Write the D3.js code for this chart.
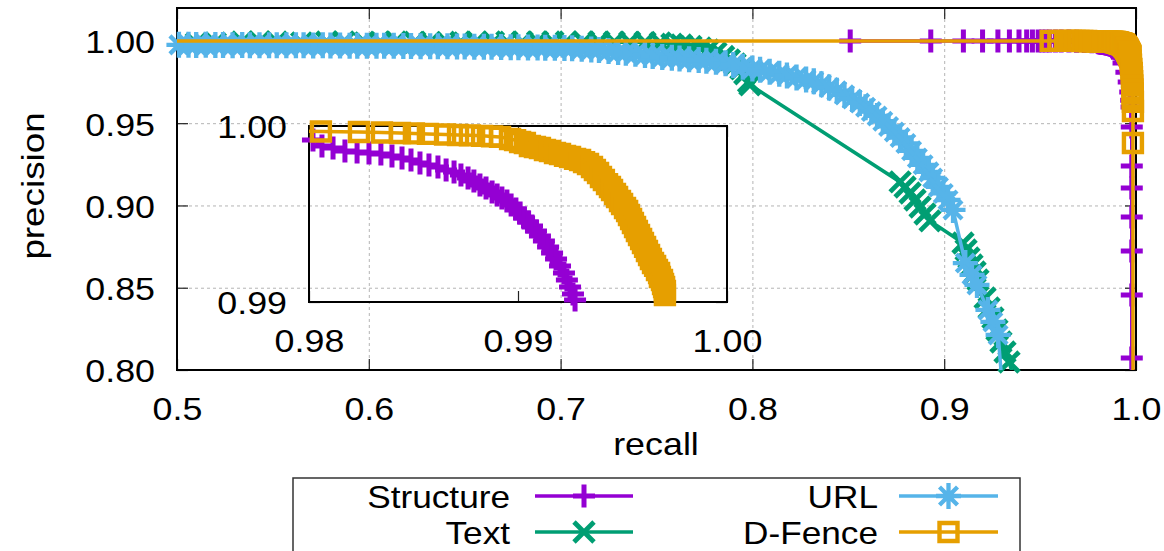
<!DOCTYPE html>
<html><head><meta charset="utf-8">
<script src="https://cdn.jsdelivr.net/npm/d3@7"></script>
<style>
body{margin:0;background:#fff}
svg{display:block}
text{font-family:"Liberation Sans",Arial,Helvetica,sans-serif;fill:#000}
</style>
</head><body>
<svg id="chart" width="1164" height="551"></svg>
<script>
// ---------------- data (recall, precision) ----------------
const seriesNames = ["Structure", "Text", "URL", "D-Fence"];

const structureData = [
 [0.851,1.0],[0.893,1.0],[0.910,1.0],[0.920,1.0],[0.928,1.0],[0.934,1.0],[0.939,1.0],[0.943,1.0],
 [0.946,1.0],[0.949,1.0],[0.951,1.0],[0.953,1.0],[0.955,1.0],[0.958,1.0],[0.961,1.0],[0.965,0.9999],
 [0.969,0.9998],[0.973,0.9997],[0.977,0.9995],
 [0.98019,0.99920],[0.98062,0.99886],[0.98115,0.99875],[0.98172,0.99858],[0.98230,0.99852],[0.98287,0.99847],
 [0.98344,0.99841],[0.98397,0.99830],[0.98445,0.99818],[0.98488,0.99807],[0.98531,0.99790],[0.98574,0.99778],
 [0.98617,0.99767],[0.98656,0.99750],[0.98694,0.99739],[0.98727,0.99722],[0.98761,0.99705],[0.98789,0.99688],
 [0.98818,0.99665],[0.98847,0.99648],[0.98876,0.99625],[0.98900,0.99608],[0.98923,0.99591],[0.98947,0.99574],
 [0.98967,0.99551],[0.98990,0.99528],[0.99010,0.99506],[0.99029,0.99477],[0.99048,0.99455],[0.99067,0.99432],
 [0.99086,0.99403],[0.99105,0.99375],[0.99124,0.99347],[0.99144,0.99313],[0.99163,0.99278],[0.99182,0.99244],
 [0.99201,0.99205],[0.99220,0.99165],[0.99234,0.99125],[0.99249,0.99085],[0.99263,0.99045],[0.99273,0.99011],
 [0.9935,0.9865],[0.9950,0.9810],[0.9962,0.9750],[0.9970,0.9690],[0.9975,0.9640],[0.9977,0.9599],
 [0.9978,0.9477],[0.9978,0.9240],[0.9978,0.9106],[0.9978,0.8930],[0.9978,0.8723],[0.9978,0.8456],
 [0.9978,0.8073],[0.9978,0.7000]
];

const textData = [
 [0.510,0.9985],[0.520,0.9987],[0.534,0.9993],[0.543,0.9994],[0.552,0.9993],[0.565,0.9988],[0.578,0.9993],
 [0.587,0.9994],[0.598,0.9988],[0.606,0.9992],[0.614,0.9993],[0.624,0.9992],[0.632,0.9991],[0.641,0.9988],
 [0.648,0.9992],[0.656,0.9993],[0.665,0.9992],[0.672,0.9994],[0.680,0.9992],[0.688,0.9994],[0.696,0.9993],
 [0.703,0.9993],[0.712,0.9993],[0.720,0.9993],[0.728,0.9992],[0.736,0.9992],[0.744,0.9990],[0.752,0.9988],
 [0.758,0.9980],[0.763,0.9975],[0.768,0.9967],[0.773,0.9957],[0.777,0.9945],[0.781,0.9927],[0.785,0.9905],
 [0.788,0.9885],[0.791,0.9860],[0.794,0.9830],[0.796,0.9800],[0.798,0.9750],[0.7987,0.9733],
 [0.8770,0.9143],[0.8796,0.9112],[0.8822,0.9076],[0.8848,0.9033],[0.8874,0.8991],[0.8900,0.8948],[0.8926,0.8906],
 [0.9098,0.8772],[0.9114,0.8729],[0.9129,0.8681],[0.9145,0.8638],[0.9161,0.8596],[0.9176,0.8547],
 [0.9213,0.8438],[0.9234,0.8377],[0.9254,0.8316],[0.9275,0.8243],[0.9296,0.8170],[0.9317,0.8109],[0.9338,0.8049],
 [0.9374,0.7909]
];

const urlData = [
 [0.501,0.9976],[0.506,0.9976],[0.510,0.9975],[0.515,0.9976],[0.520,0.9975],[0.524,0.9975],[0.529,0.9974],
 [0.534,0.9975],[0.538,0.9974],[0.543,0.9974],[0.548,0.9974],[0.552,0.9973],[0.557,0.9974],[0.562,0.9973],
 [0.566,0.9973],[0.571,0.9972],[0.576,0.9973],[0.580,0.9972],[0.585,0.9972],[0.590,0.9971],[0.594,0.9971],
 [0.599,0.9971],[0.604,0.9970],[0.608,0.9970],[0.613,0.9970],[0.618,0.9969],[0.622,0.9969],[0.627,0.9968],
 [0.632,0.9968],[0.636,0.9967],[0.641,0.9967],[0.646,0.9966],[0.650,0.9966],[0.655,0.9965],[0.660,0.9964],
 [0.664,0.9964],[0.669,0.9963],[0.674,0.9962],[0.678,0.9961],[0.683,0.9960],[0.688,0.9960],[0.692,0.9959],
 [0.697,0.9958],[0.702,0.9957],[0.706,0.9956],[0.711,0.9952],[0.716,0.9948],[0.720,0.9945],[0.725,0.9939],
 [0.730,0.9933],[0.734,0.9928],[0.739,0.9922],[0.744,0.9915],[0.748,0.9908],[0.753,0.9902],[0.758,0.9897],
 [0.762,0.9893],[0.767,0.9889],[0.772,0.9884],[0.776,0.9880],[0.781,0.9873],[0.786,0.9864],[0.790,0.9854],
 [0.795,0.9843],[0.800,0.9832],[0.804,0.9824],[0.809,0.9812],[0.814,0.9801],[0.818,0.9790],[0.823,0.9777],
 [0.828,0.9766],[0.832,0.9755],[0.836,0.9737],[0.840,0.9717],[0.844,0.9697],[0.848,0.9672],[0.852,0.9647],
 [0.856,0.9623],[0.859,0.9597],[0.862,0.9571],[0.865,0.9544],[0.868,0.9512],[0.871,0.9480],[0.874,0.9447],
 [0.877,0.9413],[0.880,0.9377],[0.883,0.9332],[0.886,0.9289],[0.889,0.9247],[0.892,0.9204],[0.894,0.9167],
 [0.897,0.9113],[0.8995,0.9073],[0.902,0.9033],[0.9046,0.8973],
 [0.9110,0.8650],[0.9145,0.8578],[0.9171,0.8517],[0.9228,0.8365],[0.9254,0.8292],[0.9281,0.8213],
 [0.9310,0.7800]
];

const dfenceData = [
 [0.300,1.0],[0.9555,1.0],[0.9595,1.0],[0.963,1.0],[0.966,1.0],[0.968,1.0],[0.970,1.0],[0.972,0.9999],
 [0.974,0.9999],[0.976,0.9998],[0.978,0.9998],[0.9795,0.9997],
 [0.98057,0.99969],[0.98239,0.99966],[0.98349,0.99963],[0.98435,0.99960],[0.98502,0.99958],[0.98569,0.99955],
 [0.98651,0.99952],[0.98713,0.99949],[0.98770,0.99947],[0.98828,0.99944],[0.98876,0.99941],[0.98914,0.99938],
 [0.98962,0.99926],[0.98986,0.99920],[0.99010,0.99909],[0.99033,0.99903],[0.99057,0.99886],[0.99081,0.99881],
 [0.99105,0.99875],[0.99129,0.99864],[0.99153,0.99858],[0.99177,0.99847],[0.99201,0.99841],[0.99225,0.99830],
 [0.99249,0.99824],[0.99273,0.99813],[0.99297,0.99807],[0.99316,0.99795],[0.99335,0.99784],[0.99354,0.99767],
 [0.99368,0.99750],[0.99383,0.99733],[0.99397,0.99710],[0.99411,0.99693],[0.99426,0.99670],[0.99440,0.99653],
 [0.99450,0.99636],[0.99464,0.99614],[0.99474,0.99597],[0.99488,0.99574],[0.99498,0.99557],[0.99512,0.99534],
 [0.99522,0.99517],[0.99531,0.99494],[0.99541,0.99472],[0.99550,0.99449],[0.99560,0.99426],[0.99569,0.99403],
 [0.99579,0.99381],[0.99589,0.99358],[0.99598,0.99335],[0.99608,0.99313],[0.99617,0.99290],[0.99627,0.99267],
 [0.99636,0.99244],[0.99646,0.99222],[0.99656,0.99205],[0.99665,0.99182],[0.99675,0.99165],[0.99679,0.99142],
 [0.99689,0.99125],[0.99694,0.99102],[0.99699,0.99085],[0.99703,0.99063],[0.99703,0.99040],
 [0.9972,0.9880],[0.9974,0.9855],[0.9976,0.9830],[0.9978,0.9805],[0.9979,0.9780],[0.9980,0.9755],
 [0.9981,0.9730],[0.9982,0.9705],[0.9983,0.9680],[0.9983,0.9655],[0.9984,0.9630],[0.9984,0.9574],
 [0.9984,0.9380],[0.9985,0.6000]
];

const xTicks = [0.5, 0.6, 0.7, 0.8, 0.9, 1.0];
const yTicks = [0.80, 0.85, 0.90, 0.95, 1.00];
const insetXTicks = [0.98, 0.99, 1.00];
const insetYTicks = [0.99, 1.00];

// ---------------- styles ----------------
const colors = ["#9400d3", "#009e73", "#56b4e9", "#e69f00"];
const markers = [
  "M-11,0H11M0,-11.5V11.5",
  "M-10,-10L10,10M-10,10L10,-10",
  "M-12.5,0H12.5M0,-13V13M-9,-9L9,9M-9,9L9,-9",
  "M-9,-9H9V9H-9Z"
];
const markerWidths = [5, 4.8, 4.3, 4.4];
const allData = [structureData, textData, urlData, dfenceData];
const FS = 32, SX = 1.12;

const svg = d3.select("#chart");

// main scales
const x = d3.scaleLinear().domain([0.5, 1.0]).range([177, 1136]);
const y = d3.scaleLinear().domain([0.80, 1.02]).range([370, 8]);
// inset scales
const ix = d3.scaleLinear().domain([0.98, 1.0]).range([309, 727]);
const iy = d3.scaleLinear().domain([0.99, 1.0]).range([302, 126]);

const defs = svg.append("defs");
defs.append("clipPath").attr("id","clipMain").append("rect")
  .attr("x", x.range()[0]).attr("y", y.range()[1])
  .attr("width", x.range()[1]-x.range()[0]).attr("height", y.range()[0]-y.range()[1]);
defs.append("clipPath").attr("id","clipInset").append("rect")
  .attr("x", ix.range()[0]).attr("y", iy.range()[1])
  .attr("width", ix.range()[1]-ix.range()[0]).attr("height", iy.range()[0]-iy.range()[1]);

function styleTickText(g, axisType, pad){
  g.selectAll("text")
    .attr("font-size", FS)
    .attr("transform", `scale(${SX},1)`);
  if(axisType === "left"){
    g.selectAll("text").attr("x", -pad/SX).attr("dy","0.37em");
  }
}

// ---------- grid ----------
const gridG = svg.append("g");
gridG.append("g").attr("transform",`translate(0,${y.range()[0]})`)
  .call(d3.axisBottom(x).tickValues(xTicks.slice(1,-1)).tickSize(-(y.range()[0]-y.range()[1])).tickFormat(""))
  .call(g=>{g.select(".domain").remove(); g.selectAll("line").attr("stroke","#b4b4b4").attr("stroke-dasharray","3,3");});
gridG.append("g").attr("transform",`translate(${x.range()[0]},0)`)
  .call(d3.axisLeft(y).tickValues(yTicks.slice(1)).tickSize(-(x.range()[1]-x.range()[0])).tickFormat(""))
  .call(g=>{g.select(".domain").remove(); g.selectAll("line").attr("stroke","#b4b4b4").attr("stroke-dasharray","3,3");});

// ---------- axes ----------
function drawAxes(sx, sy, xt, yt, xfmt, yfmt){
  const [x0,x1] = sx.range(), [y0,y1] = sy.range();
  const gb = svg.append("g").attr("transform",`translate(0,${y0})`)
    .call(d3.axisBottom(sx).tickValues(xt).tickFormat(d3.format(xfmt)).tickSize(-11).tickPadding(27));
  gb.select(".domain").remove();
  gb.selectAll("line").attr("stroke","#222").attr("stroke-width",1.2);
  styleTickText(gb, "bottom");
  const gl = svg.append("g").attr("transform",`translate(${x0},0)`)
    .call(d3.axisLeft(sy).tickValues(yt).tickFormat(d3.format(yfmt)).tickSize(-11).tickPadding(22));
  gl.select(".domain").remove();
  gl.selectAll("line").attr("stroke","#222").attr("stroke-width",1.2);
  styleTickText(gl, "left", 22);
  const gt = svg.append("g").attr("transform",`translate(0,${y1})`)
    .call(d3.axisTop(sx).tickValues(xt).tickFormat("").tickSize(-11));
  gt.select(".domain").remove();
  gt.selectAll("line").attr("stroke","#222").attr("stroke-width",1.2);
  const gr = svg.append("g").attr("transform",`translate(${x1},0)`)
    .call(d3.axisRight(sy).tickValues(yt).tickFormat("").tickSize(-11));
  gr.select(".domain").remove();
  gr.selectAll("line").attr("stroke","#222").attr("stroke-width",1.2);
  svg.append("rect").attr("x",x0).attr("y",y1).attr("width",x1-x0).attr("height",y0-y1)
    .attr("fill","none").attr("stroke","#000").attr("stroke-width",2);
}
drawAxes(x, y, xTicks, yTicks, ".1f", ".2f");

// axis titles
svg.append("text").attr("transform","translate(44,186) rotate(-90) scale(1.15,1)")
  .attr("text-anchor","middle").attr("font-size",FS).text("precision");
svg.append("text").attr("transform","translate(656,455) scale(1.12,1)")
  .attr("text-anchor","middle").attr("font-size",FS).text("recall");

// ---------- series drawing ----------
function drawSeries(sx, sy, clipId){
  const [dx0,dx1] = sx.domain(), [dy0,dy1] = sy.domain();
  const line = d3.line().x(d=>sx(d[0])).y(d=>sy(d[1]));
  allData.forEach((data,i)=>{
    const g = svg.append("g");
    g.append("path").attr("d", line(data)).attr("fill","none")
      .attr("stroke", colors[i]).attr("stroke-width",3.5).attr("clip-path",`url(#${clipId})`);
    const inside = data.filter(d=>d[0]>=dx0-1e-9 && d[0]<=dx1+1e-9 && d[1]>=dy0-1e-9 && d[1]<=dy1+1e-9);
    g.selectAll("path.m").data(inside).join("path").attr("class","m")
      .attr("d", markers[i]).attr("transform", d=>`translate(${sx(d[0])},${sy(d[1])})`)
      .attr("fill","none").attr("stroke", colors[i]).attr("stroke-width", markerWidths[i]);
  });
}
drawSeries(x, y, "clipMain");

// ---------- inset ----------
drawAxes(ix, iy, insetXTicks, insetYTicks, ".2f", ".2f");
drawSeries(ix, iy, "clipInset");

// ---------- legend ----------
const lg = svg.append("g");
lg.append("rect").attr("x",293).attr("y",478).attr("width",727).attr("height",90)
  .attr("fill","#fff").attr("stroke","#333").attr("stroke-width",1.5);
const legendPos = [[510,535,633,496],[510,535,633,532],[878,899,998,496],[878,899,998,532]];
seriesNames.forEach((name,i)=>{
  const [tx,l0,l1,ly] = legendPos[i];
  lg.append("text").attr("transform",`translate(${tx},${ly+11.5}) scale(1.1,1)`)
    .attr("text-anchor","end").attr("font-size",FS).text(name);
  lg.append("line").attr("x1",l0).attr("x2",l1).attr("y1",ly).attr("y2",ly)
    .attr("stroke",colors[i]).attr("stroke-width",3.5);
  lg.append("path").attr("d",markers[i]).attr("transform",`translate(${(l0+l1)/2},${ly})`)
    .attr("fill","none").attr("stroke",colors[i]).attr("stroke-width",markerWidths[i]);
});
</script>
</body></html>
